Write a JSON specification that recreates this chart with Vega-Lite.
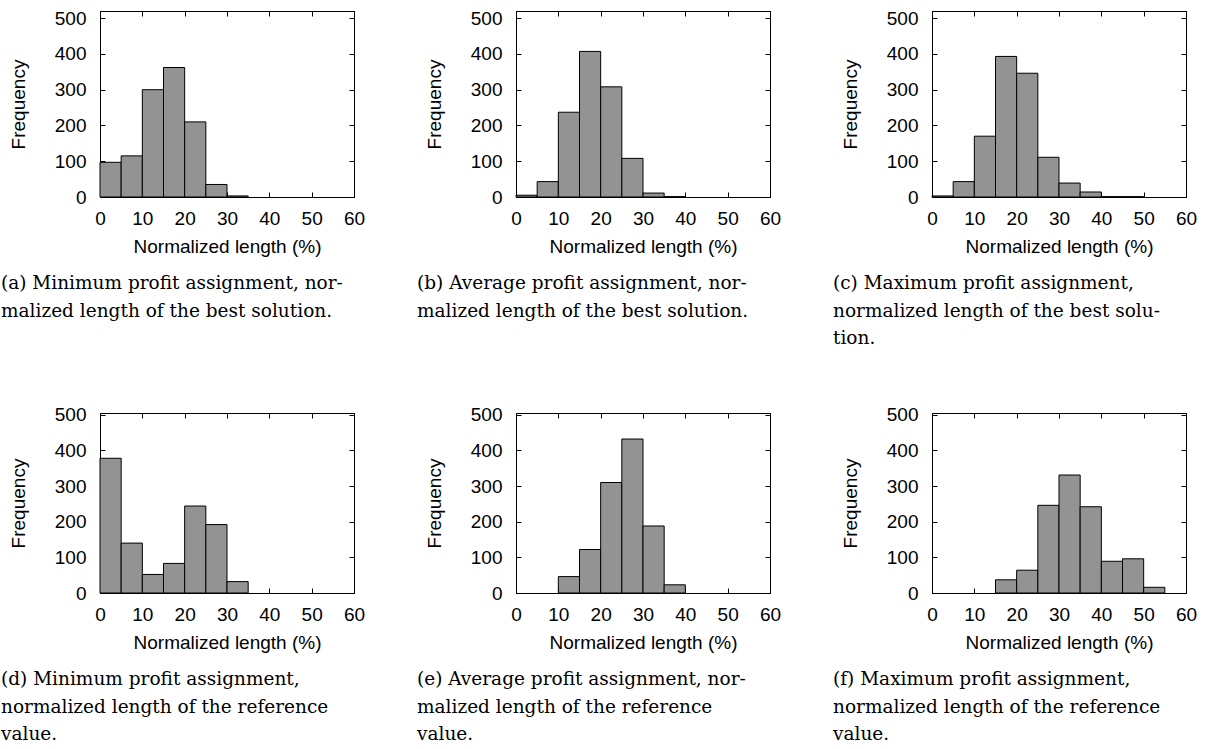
{
  "$schema": "https://vega.github.io/schema/vega-lite/v6.json",
  "padding": {"left": 0, "top": 8, "right": 0, "bottom": 0},
  "background": "white",
  "config": {
    "view": {"stroke": "black", "strokeWidth": 1},
    "axis": {
      "labelFont": "Liberation Sans", "labelFontSize": 19, "labelColor": "black",
      "titleFont": "Liberation Sans", "titleFontSize": 19, "titleFontWeight": "normal", "titleColor": "black",
      "domainColor": "black", "tickColor": "black", "grid": false, "tickSize": -5, "labelPadding": 17,
      "labelFlush": false, "labelOverlap": false
    },
    "axisBottom": {"titleY": 40},
    "axisLeft": {"titleX": -72, "labelPadding": 19},
    "title": {"font": "DejaVu Serif", "fontSize": 18.5, "fontWeight": "normal", "color": "black", "orient": "bottom", "anchor": "start", "frame": "bounds", "lineHeight": 27.5, "offset": 18, "baseline": "top", "dx": -8}
  },
  "datasets": {
    "a": [{"s":0,"e":5,"c":97},{"s":5,"e":10,"c":115},{"s":10,"e":15,"c":300},{"s":15,"e":20,"c":362},{"s":20,"e":25,"c":210},{"s":25,"e":30,"c":35},{"s":30,"e":35,"c":3}],
    "b": [{"s":0,"e":5,"c":5},{"s":5,"e":10,"c":43},{"s":10,"e":15,"c":237},{"s":15,"e":20,"c":407},{"s":20,"e":25,"c":308},{"s":25,"e":30,"c":108},{"s":30,"e":35,"c":11},{"s":35,"e":40,"c":1}],
    "c": [{"s":0,"e":5,"c":3},{"s":5,"e":10,"c":43},{"s":10,"e":15,"c":170},{"s":15,"e":20,"c":393},{"s":20,"e":25,"c":346},{"s":25,"e":30,"c":111},{"s":30,"e":35,"c":39},{"s":35,"e":40,"c":14},{"s":40,"e":45,"c":1},{"s":45,"e":50,"c":1}],
    "d": [{"s":0,"e":5,"c":378},{"s":5,"e":10,"c":140},{"s":10,"e":15,"c":52},{"s":15,"e":20,"c":83},{"s":20,"e":25,"c":244},{"s":25,"e":30,"c":192},{"s":30,"e":35,"c":32}],
    "e": [{"s":10,"e":15,"c":46},{"s":15,"e":20,"c":122},{"s":20,"e":25,"c":310},{"s":25,"e":30,"c":432},{"s":30,"e":35,"c":188},{"s":35,"e":40,"c":23}],
    "f": [{"s":15,"e":20,"c":37},{"s":20,"e":25,"c":64},{"s":25,"e":30,"c":246},{"s":30,"e":35,"c":331},{"s":35,"e":40,"c":242},{"s":40,"e":45,"c":89},{"s":45,"e":50,"c":96},{"s":50,"e":55,"c":16}]
  },
  "vconcat": [
    {
      "hconcat": [
        {
          "width": 254, "height": 186,
          "data": {"name": "a"},
          "title": {"text": ["(a) Minimum profit assignment, nor-", "malized length of the best solution."]},
          "layer": [
            {"mark": {"type": "bar", "fill": "#939393", "stroke": "black", "strokeWidth": 1},
             "encoding": {
               "x": {"field": "s", "type": "quantitative", "scale": {"domain": [0, 60]}, "axis": {"orient": "bottom", "values": [0,10,20,30,40,50,60], "title": "Normalized length (%)"}},
               "x2": {"field": "e"},
               "y": {"field": "c", "type": "quantitative", "scale": {"domain": [0, 520]}, "axis": {"orient": "left", "values": [0,100,200,300,400,500], "title": "Frequency"}},
               "y2": {"datum": 0}}},
            {"mark": {"type": "bar", "opacity": 0},
             "encoding": {
               "x": {"field": "s", "type": "quantitative", "scale": {"domain": [0, 60]}, "axis": {"orient": "top", "values": [0,10,20,30,40,50,60], "labels": false, "title": null}},
               "x2": {"field": "e"},
               "y": {"field": "c", "type": "quantitative", "scale": {"domain": [0, 520]}, "axis": {"orient": "right", "values": [0,100,200,300,400,500], "labels": false, "title": null}},
               "y2": {"datum": 0}}}
          ],
          "resolve": {"axis": {"x": "independent", "y": "independent"}}
        },
        {
          "width": 254, "height": 186,
          "data": {"name": "b"},
          "title": {"text": ["(b) Average profit assignment, nor-", "malized length of the best solution."]},
          "layer": [
            {"mark": {"type": "bar", "fill": "#939393", "stroke": "black", "strokeWidth": 1},
             "encoding": {
               "x": {"field": "s", "type": "quantitative", "scale": {"domain": [0, 60]}, "axis": {"orient": "bottom", "values": [0,10,20,30,40,50,60], "title": "Normalized length (%)"}},
               "x2": {"field": "e"},
               "y": {"field": "c", "type": "quantitative", "scale": {"domain": [0, 520]}, "axis": {"orient": "left", "values": [0,100,200,300,400,500], "title": "Frequency"}},
               "y2": {"datum": 0}}},
            {"mark": {"type": "bar", "opacity": 0},
             "encoding": {
               "x": {"field": "s", "type": "quantitative", "scale": {"domain": [0, 60]}, "axis": {"orient": "top", "values": [0,10,20,30,40,50,60], "labels": false, "title": null}},
               "x2": {"field": "e"},
               "y": {"field": "c", "type": "quantitative", "scale": {"domain": [0, 520]}, "axis": {"orient": "right", "values": [0,100,200,300,400,500], "labels": false, "title": null}},
               "y2": {"datum": 0}}}
          ],
          "resolve": {"axis": {"x": "independent", "y": "independent"}}
        },
        {
          "width": 254, "height": 186,
          "data": {"name": "c"},
          "title": {"text": ["(c) Maximum profit assignment,", "normalized length of the best solu-", "tion."]},
          "layer": [
            {"mark": {"type": "bar", "fill": "#939393", "stroke": "black", "strokeWidth": 1},
             "encoding": {
               "x": {"field": "s", "type": "quantitative", "scale": {"domain": [0, 60]}, "axis": {"orient": "bottom", "values": [0,10,20,30,40,50,60], "title": "Normalized length (%)"}},
               "x2": {"field": "e"},
               "y": {"field": "c", "type": "quantitative", "scale": {"domain": [0, 520]}, "axis": {"orient": "left", "values": [0,100,200,300,400,500], "title": "Frequency"}},
               "y2": {"datum": 0}}},
            {"mark": {"type": "bar", "opacity": 0},
             "encoding": {
               "x": {"field": "s", "type": "quantitative", "scale": {"domain": [0, 60]}, "axis": {"orient": "top", "values": [0,10,20,30,40,50,60], "labels": false, "title": null}},
               "x2": {"field": "e"},
               "y": {"field": "c", "type": "quantitative", "scale": {"domain": [0, 520]}, "axis": {"orient": "right", "values": [0,100,200,300,400,500], "labels": false, "title": null}},
               "y2": {"datum": 0}}}
          ],
          "resolve": {"axis": {"x": "independent", "y": "independent"}}
        }
      ],
      "spacing": 50
    },
    {
      "hconcat": [
        {
          "width": 254, "height": 180,
          "data": {"name": "d"},
          "title": {"text": ["(d) Minimum profit assignment,", "normalized length of the reference", "value."]},
          "layer": [
            {"mark": {"type": "bar", "fill": "#939393", "stroke": "black", "strokeWidth": 1},
             "encoding": {
               "x": {"field": "s", "type": "quantitative", "scale": {"domain": [0, 60]}, "axis": {"orient": "bottom", "values": [0,10,20,30,40,50,60], "title": "Normalized length (%)"}},
               "x2": {"field": "e"},
               "y": {"field": "c", "type": "quantitative", "scale": {"domain": [0, 505]}, "axis": {"orient": "left", "values": [0,100,200,300,400,500], "title": "Frequency"}},
               "y2": {"datum": 0}}},
            {"mark": {"type": "bar", "opacity": 0},
             "encoding": {
               "x": {"field": "s", "type": "quantitative", "scale": {"domain": [0, 60]}, "axis": {"orient": "top", "values": [0,10,20,30,40,50,60], "labels": false, "title": null}},
               "x2": {"field": "e"},
               "y": {"field": "c", "type": "quantitative", "scale": {"domain": [0, 505]}, "axis": {"orient": "right", "values": [0,100,200,300,400,500], "labels": false, "title": null}},
               "y2": {"datum": 0}}}
          ],
          "resolve": {"axis": {"x": "independent", "y": "independent"}}
        },
        {
          "width": 254, "height": 180,
          "data": {"name": "e"},
          "title": {"text": ["(e) Average profit assignment, nor-", "malized length of the reference", "value."]},
          "layer": [
            {"mark": {"type": "bar", "fill": "#939393", "stroke": "black", "strokeWidth": 1},
             "encoding": {
               "x": {"field": "s", "type": "quantitative", "scale": {"domain": [0, 60]}, "axis": {"orient": "bottom", "values": [0,10,20,30,40,50,60], "title": "Normalized length (%)"}},
               "x2": {"field": "e"},
               "y": {"field": "c", "type": "quantitative", "scale": {"domain": [0, 505]}, "axis": {"orient": "left", "values": [0,100,200,300,400,500], "title": "Frequency"}},
               "y2": {"datum": 0}}},
            {"mark": {"type": "bar", "opacity": 0},
             "encoding": {
               "x": {"field": "s", "type": "quantitative", "scale": {"domain": [0, 60]}, "axis": {"orient": "top", "values": [0,10,20,30,40,50,60], "labels": false, "title": null}},
               "x2": {"field": "e"},
               "y": {"field": "c", "type": "quantitative", "scale": {"domain": [0, 505]}, "axis": {"orient": "right", "values": [0,100,200,300,400,500], "labels": false, "title": null}},
               "y2": {"datum": 0}}}
          ],
          "resolve": {"axis": {"x": "independent", "y": "independent"}}
        },
        {
          "width": 254, "height": 180,
          "data": {"name": "f"},
          "title": {"text": ["(f) Maximum profit assignment,", "normalized length of the reference", "value."]},
          "layer": [
            {"mark": {"type": "bar", "fill": "#939393", "stroke": "black", "strokeWidth": 1},
             "encoding": {
               "x": {"field": "s", "type": "quantitative", "scale": {"domain": [0, 60]}, "axis": {"orient": "bottom", "values": [0,10,20,30,40,50,60], "title": "Normalized length (%)"}},
               "x2": {"field": "e"},
               "y": {"field": "c", "type": "quantitative", "scale": {"domain": [0, 505]}, "axis": {"orient": "left", "values": [0,100,200,300,400,500], "title": "Frequency"}},
               "y2": {"datum": 0}}},
            {"mark": {"type": "bar", "opacity": 0},
             "encoding": {
               "x": {"field": "s", "type": "quantitative", "scale": {"domain": [0, 60]}, "axis": {"orient": "top", "values": [0,10,20,30,40,50,60], "labels": false, "title": null}},
               "x2": {"field": "e"},
               "y": {"field": "c", "type": "quantitative", "scale": {"domain": [0, 505]}, "axis": {"orient": "right", "values": [0,100,200,300,400,500], "labels": false, "title": null}},
               "y2": {"datum": 0}}}
          ],
          "resolve": {"axis": {"x": "independent", "y": "independent"}}
        }
      ],
      "spacing": 50
    }
  ],
  "spacing": 57
}
